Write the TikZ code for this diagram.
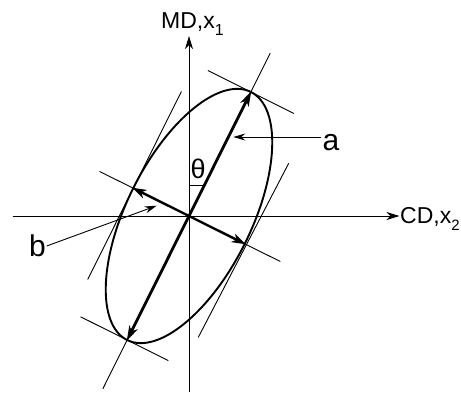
\documentclass[tikz,border=0pt]{standalone}
\usepackage{fontspec}
\setmainfont{Liberation Sans}
\usetikzlibrary{arrows.meta}
\tikzset{
  thinline/.style={line width=0.9pt, black},
  axisline/.style={line width=1pt, black, -{Stealth[length=13pt,width=8pt,inset=4pt]}},
  mainarrow/.style={line width=2.8pt, black, -{Stealth[length=15pt,width=9pt,inset=4pt]}, shorten >=-1pt},
  minorarrow/.style={line width=2.4pt, black, -{Stealth[length=14pt,width=9pt,inset=4pt]}, shorten >=-1pt},
  pointer/.style={line width=0.9pt, black, -{Stealth[length=12pt,width=7pt,inset=4pt]}},
  ellipseline/.style={line width=1.9pt, black},
  lbl/.style={inner sep=0pt, font=\fontsize{23}{23}\selectfont},
  biglbl/.style={inner sep=0pt, font=\fontsize{30}{30}\selectfont},
}
\begin{document}
\begin{tikzpicture}[x=1pt,y=-1pt]
\useasboundingbox (0,0) rectangle (461,392);
% key points
\coordinate (O) at (189,216);
\coordinate (Xl) at (12.7,216);
\coordinate (Xr) at (399.5,216);
\coordinate (Yb) at (189,392);
\coordinate (Yt) at (189,36);
\coordinate (A1) at (250.84,91.97);
\coordinate (A2) at (127.16,340.03);
\coordinate (B1) at (244.75,243.8);
\coordinate (B2) at (133.25,188.2);
\coordinate (ML1) at (270.2,53.1);
\coordinate (ML2) at (102.9,388.7);
\coordinate (NL1) at (99.5,171.4);
\coordinate (NL2) at (280.3,261.5);
\coordinate (TT1) at (207.9,70.55);
\coordinate (TT2) at (293.8,113.4);
\coordinate (BT1) at (80.6,316.8);
\coordinate (BT2) at (168.3,360.6);
\coordinate (LT1) at (181.4,91.55);
\coordinate (LT2) at (87.7,279.5);
\coordinate (RT1) at (288.7,163.3);
\coordinate (RT2) at (198.3,337.3);
\coordinate (Pa) at (321,137);
\coordinate (Pat) at (233.3,137);
\coordinate (Pb) at (46.7,246);
\coordinate (Pbt) at (156.7,205.7);
\coordinate (Th1) at (189,185);
\coordinate (Th2) at (204,185);
% axes
\draw[axisline] (Xl) -- (Xr);
\draw[axisline] (Yb) -- (Yt);
% thin construction lines
\draw[thinline] (ML2) -- (ML1);
\draw[thinline] (NL1) -- (NL2);
\draw[thinline] (TT1) -- (TT2);
\draw[thinline] (BT1) -- (BT2);
\draw[thinline] (LT1) -- (LT2);
\draw[thinline] (RT1) -- (RT2);
\draw[thinline] (Th1) -- (Th2);
% ellipse
\draw[ellipseline, rotate around={-26.5:(O)}] (O) ellipse [x radius=62.3, y radius=138.6];
% semi-axes
\draw[mainarrow] (O) -- (A1);
\draw[mainarrow] (O) -- (A2);
\draw[minorarrow] (O) -- (B1);
\draw[minorarrow] (O) -- (B2);
% pointers
\draw[pointer] (Pa) -- (Pat);
\draw[pointer] (Pb) -- (Pbt);
% labels
\node[lbl, anchor=base west] (md) at (161,28.5) {MD,x\raisebox{-7pt}{\fontsize{16}{16}\selectfont 1}};
\node[lbl, anchor=base west] (cd) at (400,223.5) {CD,x\raisebox{-7pt}{\fontsize{15}{15}\selectfont 2}};
\node[biglbl, anchor=base west] (la) at (322.5,150.5) {a};
\node[biglbl, anchor=base west] (lb) at (29,256.5) {b};
\node[inner sep=0pt, anchor=base west, font=\fontsize{27}{27}\selectfont] (th) at (190.5,178.5) {θ};
\end{tikzpicture}
\end{document}
